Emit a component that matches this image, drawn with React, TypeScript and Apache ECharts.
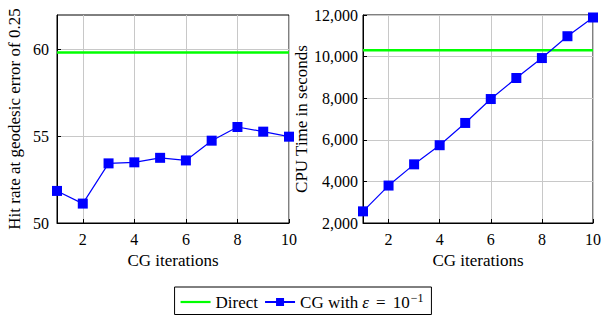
import React, { useEffect, useRef } from "react";
import * as echarts from "echarts";

const iterations = [1, 2, 3, 4, 5, 6, 7, 8, 9, 10];
const hitRateCG = [51.85, 51.12, 53.44, 53.5, 53.76, 53.61, 54.75, 55.54, 55.27, 54.98];
const hitRateDirect = 59.83;
const cpuCG = [2560, 3800, 4820, 5740, 6810, 7960, 8970, 9930, 10980, 11880];
const cpuDirect = 10300;
const xTicks = [2, 4, 6, 8, 10];
const hitTicks = [50, 55, 60];
const cpuTicks = [2000, 4000, 6000, 8000, 10000, 12000];

const FONT = "Liberation Serif";
const BLUE = "#0000ff";
const GREEN = "#00ff00";

export default function App() {
  const ref = useRef<HTMLDivElement>(null);
  useEffect(() => {
    const chart = echarts.init(ref.current!, null, { renderer: "svg" });
    const axisCommon = {
      axisLine: { show: true, onZero: false, lineStyle: { color: "#000", width: 1 } },
      axisTick: { show: true, inside: true, length: 4, lineStyle: { color: "#000" } },
      axisLabel: { color: "#000", fontFamily: FONT, fontSize: 16 },
      splitLine: { show: true, lineStyle: { color: "#c8c8c8", width: 1 } },
      nameTextStyle: { color: "#000", fontFamily: FONT, fontSize: 17 },
    };
    const xAxis = (gi: number) => ({
      ...axisCommon,
      type: "value",
      gridIndex: gi,
      min: 1,
      max: 10,
      name: "CG iterations",
      nameLocation: "middle",
      nameGap: 29,
      axisTick: { ...axisCommon.axisTick, customValues: xTicks },
      axisLabel: { ...axisCommon.axisLabel, customValues: xTicks, margin: 8 },
    });
    const fmt = (v: number) => v.toLocaleString("en-US");
    chart.setOption({
      animation: false,
      textStyle: { fontFamily: FONT },
      grid: [
        { left: 57, top: 15, width: 232, height: 208, show: true, borderColor: "#000", borderWidth: 1, backgroundColor: "transparent" },
        { left: 363, top: 15, width: 233, height: 208, show: true, borderColor: "#000", borderWidth: 1, backgroundColor: "transparent" },
      ],
      xAxis: [xAxis(0), xAxis(1)],
      yAxis: [
        {
          ...axisCommon,
          type: "value",
          gridIndex: 0,
          min: 50,
          max: 62,
          name: "Hit rate at geodesic error of 0.25",
          nameLocation: "middle",
          nameGap: 34,
          axisTick: { ...axisCommon.axisTick, customValues: hitTicks },
          axisLabel: { ...axisCommon.axisLabel, customValues: hitTicks, margin: 8 },
        },
        {
          ...axisCommon,
          type: "value",
          gridIndex: 1,
          min: 2000,
          max: 12000,
          name: "CPU Time in seconds",
          nameLocation: "middle",
          nameGap: 48,
          axisTick: { ...axisCommon.axisTick, customValues: cpuTicks },
          axisLabel: { ...axisCommon.axisLabel, customValues: cpuTicks, margin: 5, formatter: fmt },
        },
      ],
      legend: {
        left: "center",
        top: 287,
        orient: "horizontal",
        borderColor: "#000",
        borderWidth: 1,
        padding: [5, 8, 4, 6],
        itemWidth: 30,
        itemHeight: 10,
        itemGap: 6,
        data: [
          { name: "Direct", icon: "path://M0,4 L30,4 L30,6.2 L0,6.2 Z" },
          { name: "CG" },
        ],
        formatter: (name: string) =>
          name === "CG" ? "{a|CG with }{e|ε}{q|=}{a|10}{s|−1}" : "{a|Direct}",
        textStyle: {
          color: "#000",
          fontFamily: FONT,
          fontSize: 17,
          rich: {
            a: { fontFamily: FONT, fontSize: 17, color: "#000" },
            q: { fontFamily: FONT, fontSize: 17, color: "#000", padding: [0, 7, 0, 7] },
            e: { fontFamily: FONT, fontSize: 17, fontStyle: "italic", color: "#000" },
            s: { fontFamily: FONT, fontSize: 12, color: "#000", verticalAlign: "top", padding: [0, 0, 8, 1] },
          },
        },
      },
      series: [
        {
          name: "Direct",
          type: "line",
          xAxisIndex: 0,
          yAxisIndex: 0,
          symbol: "none",
          data: [[1, hitRateDirect], [10, hitRateDirect]],
          lineStyle: { color: GREEN, width: 2.5 },
          itemStyle: { color: GREEN },
        },
        {
          name: "CG",
          type: "line",
          xAxisIndex: 0,
          yAxisIndex: 0,
          symbol: "rect",
          symbolSize: 10,
          data: iterations.map((x, i) => [x, hitRateCG[i]]),
          lineStyle: { color: BLUE, width: 1.2 },
          itemStyle: { color: BLUE },
        },
        {
          name: "Direct",
          type: "line",
          xAxisIndex: 1,
          yAxisIndex: 1,
          symbol: "none",
          data: [[1, cpuDirect], [10, cpuDirect]],
          lineStyle: { color: GREEN, width: 2.5 },
          itemStyle: { color: GREEN },
        },
        {
          name: "CG",
          type: "line",
          xAxisIndex: 1,
          yAxisIndex: 1,
          symbol: "rect",
          symbolSize: 10,
          data: iterations.map((x, i) => [x, cpuCG[i]]),
          lineStyle: { color: BLUE, width: 1.2 },
          itemStyle: { color: BLUE },
        },
      ],
    });
    return () => chart.dispose();
  }, []);
  return (
    <div
      ref={ref}
      style={{ position: "absolute", left: 0, top: 0, width: 604, height: 320, background: "#fff" }}
    />
  );
}
